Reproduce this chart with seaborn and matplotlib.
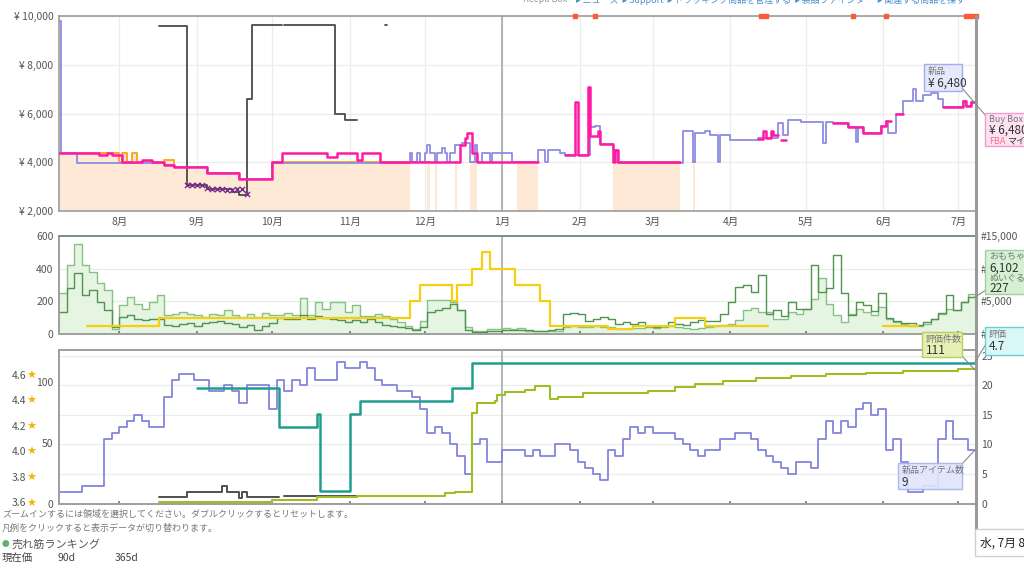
import numpy as np
import pandas as pd
import seaborn as sns
import matplotlib
matplotlib.use('Agg')
import matplotlib.pyplot as plt
import matplotlib.transforms as mtransforms
from matplotlib.patches import Rectangle
from matplotlib.lines import Line2D

nan = np.nan

# ---- time axis ----
start, end = pd.Timestamp('2019-07-08'), pd.Timestamp('2020-07-08')
grid3 = pd.date_range(start, periods=122, freq='3D')
month_ticks = pd.date_range('2019-08-01', '2020-07-01', freq='MS')
month_labels = [f'{d.month}月' for d in month_ticks]
year_start = pd.Timestamp('2020-01-01')

# ---- price panel ----
new_dates = ['2019-07-08', '2019-07-08T18:00', '2019-07-15', '2019-08-19', '2019-08-23', '2019-09-05',
             '2019-09-18', '2019-10-01', '2019-11-25', '2019-11-26', '2019-11-28', '2019-11-29',
             '2019-12-01', '2019-12-02', '2019-12-03', '2019-12-05', '2019-12-06', '2019-12-08',
             '2019-12-09', '2019-12-10', '2019-12-11', '2019-12-13', '2019-12-16', '2019-12-19',
             '2019-12-21', '2019-12-22', '2019-12-24', '2019-12-27', '2019-12-28', '2020-01-05',
             '2020-01-15', '2020-01-18', '2020-01-19', '2020-01-24', '2020-01-26', '2020-02-05',
             '2020-02-07', '2020-02-09', '2020-02-14', '2020-02-16', '2020-03-13', '2020-03-17',
             '2020-03-18', '2020-03-22', '2020-03-24', '2020-03-27', '2020-03-28', '2020-04-01',
             '2020-04-12', '2020-04-20', '2020-04-22', '2020-04-24', '2020-04-29', '2020-05-08',
             '2020-05-09', '2020-05-12', '2020-05-18', '2020-05-21', '2020-05-22', '2020-05-24',
             '2020-05-31', '2020-06-02', '2020-06-03', '2020-06-06', '2020-06-09', '2020-06-13',
             '2020-06-14', '2020-06-17', '2020-06-20', '2020-06-23', '2020-06-25', '2020-07-03',
             '2020-07-04', '2020-07-06']
new_price = [9800, 4400, 3980, 3900, 3800, 3550,
             3300, 3950, 4400, 4000, 4400, 4000,
             4400, 4700, 4400, 4000, 4400, 4600,
             4400, 4000, 4400, 4700, 4800, 4000,
             4700, 4000, 4400, 4000, 4400, 4000,
             4500, 4000, 4500, 4400, 4300, 5450,
             5500, 4750, 4500, 3950, 5300, 4000,
             5200, 5300, 5100, 4000, 5100, 4900,
             5000, 5600, 5100, 5750, 5650, 4800,
             5650, 5600, 5430, 4850, 5430, 5200,
             5500, 5700, 5200, 6000, 6500, 7000,
             6500, 6750, 6850, 6600, 6280, 6500,
             6300, 6480]

buybox_dates = ['2019-07-08', '2019-07-24', '2019-07-27', '2019-07-29', '2019-08-02', '2019-08-10',
                '2019-08-14', '2019-08-19', '2019-08-23', '2019-09-05', '2019-09-18', '2019-10-01',
                '2019-10-05', '2019-10-23', '2019-10-27', '2019-11-04', '2019-11-06', '2019-11-13',
                '2019-12-15', '2019-12-17', '2019-12-18', '2019-12-20', '2019-12-22', '2020-01-15',
                '2020-01-26', '2020-01-30', '2020-01-31', '2020-02-04', '2020-02-05', '2020-02-08',
                '2020-02-09', '2020-02-14', '2020-02-15', '2020-02-16', '2020-03-12', '2020-04-12',
                '2020-04-14', '2020-04-15', '2020-04-17', '2020-04-18', '2020-04-20', '2020-04-21',
                '2020-04-23', '2020-05-12', '2020-05-18', '2020-05-24', '2020-05-31', '2020-06-02',
                '2020-06-04', '2020-06-06', '2020-06-09', '2020-06-25', '2020-07-03', '2020-07-04',
                '2020-07-06']
buybox_price = [4400, 4300, 4400, 4300, 4000, 4100,
                4000, 3900, 3800, 3550, 3300, 4000,
                4400, 4200, 4400, 4100, 4400, 4000,
                4700, 5000, 5200, 4400, 4000, nan,
                4300, 6480, 4300, 7100, 5080, 5300,
                4750, 4000, 4500, 4000, nan, 4950,
                5300, 5000, 5300, 5100, nan, 4900,
                nan, 5600, 5430, 5200, 5500, 5700,
                nan, 6000, nan, 6250, 6500, 6300,
                6480]

amazon_dates = ['2019-07-08', '2019-08-01', '2019-08-02', '2019-08-04', '2019-08-06', '2019-08-08',
                '2019-08-19', '2019-08-23', '2019-09-05', '2019-09-18', '2019-10-01', '2019-11-25',
                '2019-12-02', '2019-12-03', '2019-12-05', '2019-12-06', '2019-12-13', '2019-12-14',
                '2019-12-19', '2019-12-22', '2020-01-07', '2020-01-15', '2020-02-14', '2020-03-12',
                '2020-03-17', '2020-03-18']
amazon_price = [4400, 4000, 4400, 4000, 4400, 4000,
                4100, 3800, 3550, 3300, 4000, nan,
                4000, nan, 4000, nan, 4000, nan,
                4000, nan, 4000, nan, 4000, nan,
                4000, nan]

used_dates = ['2019-08-17', '2019-08-28', '2019-09-05', '2019-09-15', '2019-09-18', '2019-09-21',
              '2019-09-23', '2019-10-05', '2019-10-06', '2019-10-26', '2019-10-30', '2019-11-04',
              '2019-11-15', '2019-11-16']
used_price = [9600, 3050, 2900, 2800, 2650, 6580,
              9620, nan, 9620, 5980, 5730, nan,
              9620, nan]

collect_dates = pd.date_range('2019-08-28', '2019-09-21', freq='2D')
collect_price = [3050, 3050, 3050, 3050, 2950, 2900, 2900, 2900, 2880, 2850, 2900, 2900, 2700]

event_dates = ['2020-01-30', '2020-02-07', '2020-04-13', '2020-04-15', '2020-05-20',
               '2020-06-02', '2020-07-04', '2020-07-06', '2020-07-08']

# ---- rank panel (3-day samples) ----
rank_main = [6250, 10625, 13750, 10625, 9500, 7750, 6750, 750, 4375, 5700, 4650, 3875, 4925,
             5950, 2850, 3100, 3375, 3100, 2850, 2575, 3100, 2850, 3625, 2950, 2575, 3100,
             2575, 3200, 2850, 2950, 3200,
             2850, 5450, 2950, 4825, 3875, 4925, 4825, 3375, 4500, 2750, 2750, 3100, 2750,
             2225, 1800, 1300, 775, 1925, 5175, 5175, 5175, 4925, 3625, 1025, 525, 525, 775,
             775, 875, 775, 975,
             525, 475, 425, 525, 525, 1025, 1200, 1025, 1125, 1200, 1075, 1025, 775, 775,
             875, 975, 1025, 975, 1025, 1200, 1125, 975, 775, 875, 1025, 1300, 1400, 1550,
             2075, 3625, 3975,
             3375, 3375, 2225, 2225, 3375, 3100, 3875, 5425, 8525, 4650, 2850, 1800, 3100,
             3875, 3375, 2850, 4150, 2225, 1800, 1550, 1200, 1150, 1550, 2225, 3100, 3875,
             3625, 4825, 6102]
rank_sub = [135, 280, 373, 238, 269, 197, 145, 41, 103, 114, 89, 83, 89, 89, 56, 48, 62, 68,
            52, 68, 72, 81, 68, 62, 41, 56, 27, 52, 68, 97, 89,
            93, 114, 93, 110, 97, 89, 83, 72, 83, 72, 89, 72, 56, 52, 41, 35, 27, 41, 135,
            145, 159, 186, 145, 27, 15, 15, 17, 21, 25, 25, 27,
            27, 21, 19, 27, 31, 124, 130, 124, 77, 93, 103, 93, 62, 72, 64, 72, 48, 41, 48,
            72, 64, 56, 72, 83, 77, 77, 124, 197, 290, 300, 259,
            362, 124, 145, 110, 197, 155, 155, 424, 259, 279, 486, 248, 114, 197, 176, 139,
            248, 97, 77, 68, 68, 56, 72, 89, 130, 238, 145, 197, 227]

yellow_dates = ['2019-07-19', '2019-08-17', '2019-11-25', '2019-11-29', '2019-12-12', '2019-12-14',
                '2019-12-20', '2019-12-24', '2019-12-27', '2020-01-06', '2020-01-16', '2020-01-20',
                '2020-02-12', '2020-02-22', '2020-03-10', '2020-03-22', '2020-04-16', '2020-06-01',
                '2020-06-15']
yellow_vals = [50, 100, 200, 300, 200, 300,
               400, 500, 400, 300, 200, 50,
               30, 50, 100, 50, nan, 50,
               nan]

# ---- offers / rating panel ----
new_count = [2, 2, 2, 3, 3, 3, 11, 12, 13, 14, 15, 14, 13, 13, 18, 21, 22, 22, 21, 21, 19,
             19, 20, 19, 17, 20, 20, 20, 16, 21, 19, 21, 20, 23, 21, 21, 21, 24, 23, 23, 24,
             23, 21, 20, 20, 19, 19, 18, 16, 12, 13, 12, 10, 8, 5, 10, 11, 7, 7, 9, 9,
             9, 8, 9, 8, 8, 10, 10, 9, 7, 6, 5, 4, 9, 8, 11, 13, 12, 13, 12, 12,
             12, 11, 10, 9, 8, 9, 9, 11, 11, 12, 12, 11, 9, 8, 7, 6, 5, 7, 7, 6,
             11, 14, 12, 14, 13, 16, 17, 15, 16, 9, 11, 7, 2, 2, 3, 3, 11, 14, 11, 11, 9]

used_count_dates = ['2019-08-17', '2019-08-28', '2019-09-11', '2019-09-13', '2019-09-18',
                    '2019-09-19', '2019-09-21', '2019-10-04', '2019-10-06', '2019-11-04']
used_count = [1.1, 2, 3, 2, 1, 2, 1.1, nan, 1.2, nan]

rating_dates = ['2019-09-01', '2019-10-04', '2019-10-19', '2019-10-20', '2019-11-01',
                '2019-11-05', '2019-12-12', '2019-12-20']
rating = [4.5, 4.2, 4.3, 3.7, 4.3, 4.4, 4.5, 4.7]

review_dates = ['2019-08-17', '2019-09-01', '2019-10-01', '2019-10-19', '2019-11-04', '2019-12-09',
                '2019-12-13', '2019-12-20', '2019-12-22', '2019-12-29', '2019-12-30', '2020-01-02',
                '2020-01-10', '2020-01-14', '2020-01-20', '2020-01-23', '2020-02-02', '2020-02-28',
                '2020-03-10', '2020-03-18', '2020-03-29', '2020-04-11', '2020-04-25', '2020-05-09',
                '2020-05-25', '2020-06-09', '2020-07-01']
review_count = [1, 1.3, 2.7, 5, 6.3, 8.3,
                9.8, 75, 82.6, 85, 89.5, 92,
                94, 97, 86, 88, 91, 93,
                96, 99, 101, 104, 105.5, 107,
                108, 109.6, 111]

star_ticks = [3.6, 3.8, 4.0, 4.2, 4.4, 4.6]


def step_frame(dates, values, until=None):
    rows, seg, prev = [], 0, None
    for d, v in zip(pd.to_datetime(pd.Series(dates).astype(str), format='ISO8601'), values):
        if np.isnan(v):
            if prev is not None:
                rows.append((d, prev, seg))
            seg += 1
            prev = None
        else:
            rows.append((d, float(v), seg))
            prev = float(v)
    if until is not None and prev is not None:
        rows.append((pd.Timestamp(until), prev, seg))
    return pd.DataFrame(rows, columns=['date', 'value', 'seg'])


def draw_steps(ax, df, color, lw, z=2, alpha=1.0):
    sns.lineplot(data=df, x='date', y='value', units='seg', estimator=None,
                 drawstyle='steps-post', color=color, linewidth=lw, alpha=alpha,
                 zorder=z, ax=ax, legend=False)


def fill_steps(ax, df, base, color, z=1):
    for _, sub in df.groupby('seg'):
        ax.fill_between(sub['date'], base, sub['value'], step='post', color=color,
                        linewidth=0, zorder=z)


sns.set_theme(style='white')
plt.rcParams['font.family'] = ['Noto Sans CJK JP', 'DejaVu Sans']
plt.rcParams['axes.edgecolor'] = '#a0a0a0'

W, H = 1024, 570
fx = lambda x: x / W
fy = lambda y: 1 - y / H

fig = plt.figure(figsize=(10.24, 5.70), dpi=100)
ax1 = fig.add_axes([fx(59), fy(211), 917 / W, 195 / H])
ax2 = fig.add_axes([fx(59), fy(334), 917 / W, 98 / H])
ax3 = fig.add_axes([fx(59), fy(503.5), 917 / W, 153.5 / H])

tick_col = '#555555'

# ---------- price panel ----------
amz = step_frame(amazon_dates, amazon_price)
fill_steps(ax1, amz, 2000, '#fde9d6')
draw_steps(ax1, amz, '#ffa726', 1.4, z=2)
draw_steps(ax1, step_frame(new_dates, new_price, until=end), '#8c8ce3', 1.3, z=3)
draw_steps(ax1, step_frame(used_dates, used_price), '#4a4a4a', 1.3, z=3)
draw_steps(ax1, step_frame(buybox_dates, buybox_price, until=end), '#ff1aa6', 1.8, z=4)
sns.scatterplot(x=collect_dates, y=collect_price, marker='x', color='#7b2d8b', s=14,
                linewidth=1.0, zorder=5, ax=ax1, legend=False)
ax1.scatter(pd.to_datetime(event_dates), [10000] * len(event_dates), marker='s', s=5,
            color='#ff5a36', zorder=6, clip_on=False)

ax1.set_xlim(start, end)
ax1.set_ylim(2000, 10000)
ax1.set_yticks([2000, 4000, 6000, 8000, 10000])
ax1.set_yticklabels(['¥ 2,000', '¥ 4,000', '¥ 6,000', '¥ 8,000', '¥ 10,000'])
ax1.set_xticks(month_ticks)
ax1.set_xticklabels(month_labels)
ax1.grid(True, color='#ececec', linewidth=0.9)
ax1.axvline(year_start, color='#a8a8a8', linewidth=1.2, zorder=1.5)
ax1.tick_params(axis='both', labelsize=7.5, colors=tick_col, length=0, pad=4)
ax1.set_xlabel('')
ax1.set_ylabel('')

# ---------- rank panel ----------
ax2r = ax2.twinx()
ax2r.set_zorder(1)
ax2.set_zorder(2)
ax2.patch.set_visible(False)

main_df = step_frame(list(grid3) + [end], rank_main + [rank_main[-1]])
fill_steps(ax2r, main_df, 0, '#e6f4e2')
draw_steps(ax2r, main_df, '#86c286', 1.0, z=2)
draw_steps(ax2, step_frame(list(grid3) + [end], rank_sub + [rank_sub[-1]]), '#4f944f', 1.0, z=2)
draw_steps(ax2, step_frame(yellow_dates, yellow_vals), '#f5cf10', 1.6, z=3)

ax2.set_xlim(start, end)
ax2.set_ylim(0, 600)
ax2.set_yticks([0, 200, 400, 600])
ax2r.set_ylim(0, 15000)
ax2r.set_yticks([0, 5000, 10000, 15000])
ax2r.set_yticklabels(['#', '#5,000', '#10,000', '#15,000'])
ax2r.grid(True, axis='y', color='#dff3dc', linewidth=0.9)
ax2r.set_xticks(month_ticks)
ax2r.grid(True, axis='x', color='#ececec', linewidth=0.9)
ax2r.axvline(year_start, color='#a8a8a8', linewidth=1.2, zorder=1.5)
ax2.set_xticks(month_ticks)
ax2.set_xticklabels([])
ax2.tick_params(axis='y', labelsize=7.5, colors=tick_col, length=0, pad=4)
ax2.tick_params(axis='x', direction='in', length=2.5, color='#777777', bottom=True)
ax2r.tick_params(axis='y', labelsize=7.5, colors=tick_col, length=0, pad=3)
for a in (ax2, ax2r):
    a.set_xlabel('')
    a.set_ylabel('')
ax2.spines['top'].set_color('#7d8f7d')
ax2.spines['top'].set_linewidth(1.3)

# ---------- offers / rating panel ----------
ax3r = ax3.twinx()
ax3s = ax3.twinx()
ax3r.set_zorder(1)
ax3.set_zorder(2)
ax3s.set_zorder(3)
ax3.patch.set_visible(False)
ax3s.patch.set_visible(False)

draw_steps(ax3r, step_frame(list(grid3) + [end], new_count + [new_count[-1]]), '#8585de', 1.3, z=2)
draw_steps(ax3r, step_frame(used_count_dates, used_count), '#505050', 1.4, z=3)
draw_steps(ax3, step_frame(review_dates, review_count, until=end), '#9cbf25', 1.5, z=3)
draw_steps(ax3s, step_frame(rating_dates, rating, until=end), '#1f9e8f', 1.8, z=3)

ax3.set_xlim(start, end)
ax3.set_ylim(0, 126.7)
ax3.set_yticks([0, 50, 100])
ax3r.set_ylim(0, 26.0)
ax3r.set_yticks([0, 5, 10, 15, 20, 25])
ax3s.set_ylim(3.6, 4.80)
ax3s.set_yticks([])
ax3r.grid(True, axis='y', color='#ececec', linewidth=0.9)
ax3r.set_xticks(month_ticks)
ax3r.grid(True, axis='x', color='#ececec', linewidth=0.9)
ax3r.axvline(year_start, color='#a8a8a8', linewidth=1.2, zorder=1.5)
ax3.set_xticks(month_ticks)
ax3.set_xticklabels([])
ax3.tick_params(axis='y', labelsize=7.5, colors=tick_col, length=0, pad=4)
ax3.tick_params(axis='x', direction='in', length=2.5, color='#777777', bottom=True)
ax3r.tick_params(axis='y', labelsize=7.5, colors=tick_col, length=0, pad=4)
for a in (ax3, ax3r, ax3s):
    a.set_xlabel('')
    a.set_ylabel('')

blend = mtransforms.blended_transform_factory(fig.transFigure, ax3s.transData)
for s in star_ticks:
    fig.text(fx(26), s, f'{s:.1f}', transform=blend, ha='right', va='center',
             fontsize=7.5, color=tick_col)
    fig.text(fx(31), s, '★', transform=blend, ha='center', va='center',
             fontsize=8, color='#f5b400', family=['DejaVu Sans'])

# ---------- cursor line ----------
fig.add_artist(Line2D([fx(975.5)] * 2, [fy(16), fy(548)], transform=fig.transFigure,
                      color='#9a9a9a', linewidth=2.2, zorder=5))


def tip(x0, y0, x1, y1, fc, ec, items, alpha=1.0):
    fig.add_artist(Rectangle((fx(x0), fy(y1)), (x1 - x0) / W, (y1 - y0) / H,
                             transform=fig.transFigure, facecolor=fc, edgecolor=ec,
                             linewidth=1.0, alpha=alpha, zorder=10))
    for (tx, ty, txt, size, col) in items:
        fig.text(fx(tx), fy(ty), txt, fontsize=size, color=col, ha='left', va='center',
                 zorder=11)


def link(x0, y0, x1, y1):
    fig.add_artist(Line2D([fx(x0), fx(x1)], [fy(y0), fy(y1)], transform=fig.transFigure,
                          color='#8a8a8a', linewidth=0.8, zorder=9))


link(962, 88, 986, 116)
link(962, 356, 975, 370)
link(986, 344, 975, 362)
link(962, 464, 975, 450)
link(986, 290, 975, 297)

tip(924, 64, 962, 91, '#e4e9fb', '#a3acec',
    [(928, 71, '新品', 6.5, '#777777'), (928, 83, '¥ 6,480', 8.5, '#333333')])
tip(985, 113, 1030, 146, '#fde3f2', '#f49ad0',
    [(989, 119, 'Buy Box', 6.5, '#777777'), (989, 130, '¥ 6,480', 8.5, '#333333'),
     (989, 141, 'FBA', 6.5, '#ff6f91')])
fig.text(fx(1007), fy(141), 'マイ', fontsize=6.5, color='#333333', va='center', zorder=11)
tip(985, 250, 1030, 294, '#d6f0d3', '#9fd39a',
    [(989, 257, 'おもちゃ', 6.5, '#777777'), (989, 268, '6,102', 8.5, '#333333'),
     (989, 279, 'ぬいぐる', 6.5, '#777777'), (989, 289, '227', 8.5, '#333333')])
tip(922, 332, 962, 357, '#e6f0b4', '#b8cf5a',
    [(926, 339, '評価件数', 6.5, '#777777'), (926, 351, '111', 8.5, '#333333')])
tip(985, 327, 1030, 355, '#d9f7f7', '#6dd0d0',
    [(989, 334, '評価', 6.5, '#777777'), (989, 346, '4.7', 8.5, '#333333')])
tip(898, 463, 962, 489, '#dfe5fb', '#a8b2e8',
    [(902, 470, '新品アイテム数', 6.5, '#777777'), (902, 482, '9', 8.5, '#333333')], alpha=0.9)
tip(975, 529, 1032, 556, '#ffffff', '#cfcfcf',
    [(980, 543, '水, 7月 8', 8.5, '#222222')])

# ---------- surrounding page text ----------
fig.text(fx(523), fy(0), 'Keepa Box', fontsize=6.5, color='#999999', va='center')
fig.text(fx(576), fy(0), '▸ ニュース  ▸ Support  ▸ トラッキング商品を管理する  ▸ 製品ファインダー  ▸ 関連する商品を探す',
         fontsize=6.5, color='#4a90d0', va='center')
fig.text(fx(2), fy(514), 'ズームインするには領域を選択してください。ダブルクリックするとリセットします。',
         fontsize=6.5, color='#777777', va='center')
fig.text(fx(2), fy(528), '凡例をクリックすると表示データが切り替わります。',
         fontsize=6.5, color='#777777', va='center')
fig.text(fx(2), fy(544), '●', fontsize=5.5, color='#5fae6c', va='center')
fig.text(fx(11), fy(544), '売れ筋ランキング', fontsize=8, color='#555555', va='center')
fig.text(fx(2), fy(558), '現在価', fontsize=7.5, color='#444444', va='center')
fig.text(fx(58), fy(558), '90d', fontsize=7.5, color='#444444', va='center')
fig.text(fx(115), fy(558), '365d', fontsize=7.5, color='#444444', va='center')

fig.savefig('out.png', dpi=100)
